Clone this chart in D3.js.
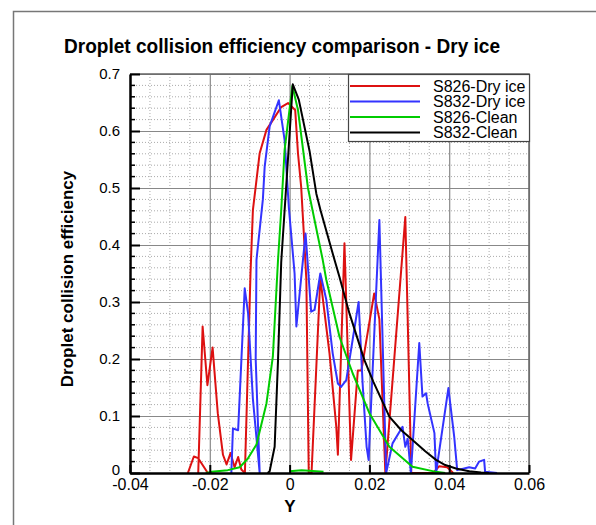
<!DOCTYPE html>
<meta charset="utf-8">
<style>
body { margin: 0; background: #fff; }
text { font-family: Arial, "Liberation Sans", sans-serif; }
</style>
<body>
<script src="https://d3js.org/d3.v7.min.js"></script>
<script>

// data: [Y, efficiency]; null pairs break the line
var s826Dry = [
  [-0.0255,0],[-0.024,0.029],[-0.0229,0.026],[-0.0205,0],[null,null],
  [-0.0229,0],[-0.0218,0.257],[-0.0206,0.154],[-0.0193,0.22],[-0.018,0.105],[-0.0167,0.032],
  [-0.0158,0.015],[-0.0148,0.035],[-0.0138,0.01],[-0.0129,0.028],[-0.0121,0.006],[-0.0112,0],
  [-0.0098,0.35],[-0.0092,0.461],[-0.0075,0.561],[-0.0058,0.602],[-0.0042,0.619],[-0.0021,0.642],
  [-0.0004,0.649],[0.0014,0.637],[0.0021,0.561],[0.0029,0.502],[0.00375,0.397],[0.0042,0.339],
  [0.0048,0],[0.0055,0],[0.0077,0.342],[0.01,0.21],[0.0117,0.081],[0.0121,0.032],[0.01375,0.403],
  [0.0154,0.023],[0.0171,0.18],[0.018,0.18],[0.0212,0.315],[0.0225,0.27],[0.024,0],[0.029,0.449],
  [0.0305,0],[0.036,0],[0.0375,0.012],[0.0395,0.01],[0.041,0]
];
var s832Dry = [
  [-0.0146,0],[-0.0142,0.078],[-0.0129,0.075],[-0.01125,0.324],[-0.0104,0.28],[-0.0092,0.13],
  [-0.0075,0],[-0.0085,0.2],[-0.0083,0.374],[-0.0067,0.48],[-0.00625,0.537],[-0.005,0.608],
  [-0.0027,0.654],[-0.00125,0.584],[-0.0002,0.467],[0.00125,0.35],[0.0017,0.257],[0.004,0.42],
  [0.0054,0.283],[0.00625,0.286],[0.0077,0.35],[0.0092,0.304],[0.0108,0.21],[0.0121,0.157],
  [0.0129,0.151],[0.0142,0.163],[0.0173,0.30],[0.0183,0.157],[0.0193,0.046],[0.0198,0.023],
  [0.0225,0.444],[0.0242,0],[0.0258,0.052],[0.0283,0.081],[0.029,0.046],[0.0296,0.06],[0.0304,0],
  [0.0325,0.228],[0.0333,0.134],[0.0342,0.14],[0.0346,0.122],[0.0363,0.07],[0.0367,0],
  [0.0398,0.149],[0.04125,0.064],[0.042,0.005],[0.045,0.01],[0.0465,0.008],[0.0475,0.02],
  [0.04875,0.023],[0.049,0.002],[0.052,0]
];
var s826Clean = [
  [-0.021,0],[-0.0196,0.002],[-0.0155,0.005],[-0.0125,0.01],[-0.0105,0.025],[-0.0083,0.05],
  [-0.0058,0.122],[-0.0042,0.204],[-0.0029,0.374],[-0.0021,0.461],[-0.00125,0.567],[0.0007,0.679],
  [0.0021,0.637],[0.0046,0.5],[0.0083,0.374],[0.0092,0.339],[0.0125,0.239],[0.0158,0.175],
  [0.02,0.105],[0.025,0.046],[0.0308,0.011],[0.0367,0.002],[0.039,0],[null,null],
  [0.0,0.003],[0.003,0.005],[0.0085,0.002]
];
var s832Clean = [
  [-0.0055,0],[-0.005,0.003],[-0.00375,0.046],[-0.0029,0.198],[-0.0021,0.37],[-0.0006,0.53],
  [0.0008,0.682],[0.0023,0.655],[0.005,0.565],[0.0067,0.49],[0.00775,0.461],[0.01125,0.374],
  [0.0125,0.344],[0.015,0.28],[0.01875,0.198],[0.021,0.16],[0.025,0.099],[0.028,0.075],
  [0.0308,0.058],[0.034,0.038],[0.0367,0.023],[0.039,0.014],[0.0417,0.008],[0.045,0.003],
  [0.048,0.001],[0.05,0]
];

var seriesNames = ["S826-Dry ice", "S832-Dry ice", "S826-Clean", "S832-Clean"];
var seriesData = [s826Dry, s832Dry, s826Clean, s832Clean];
var seriesColors = ["#dd1111", "#3333ff", "#00cc00", "#000000"];

var xTicks = [-0.04, -0.02, 0, 0.02, 0.04, 0.06];
var yTicks = [0, 0.1, 0.2, 0.3, 0.4, 0.5, 0.6, 0.7];

// plot box
var box = {left: 130, right: 529, top: 74, bottom: 473};

var svg = d3.select("body").append("svg")
    .attr("width", 596)
    .attr("height", 525);

// outer frame (only left and top edges show)
svg.append("path")
    .attr("d", "M13.5,525V11.5H596")
    .attr("fill", "none")
    .attr("stroke", "#777")
    .attr("stroke-width", 1.5);

var x = d3.scaleLinear().domain([-0.04, 0.06]).range([box.left, box.right]);
var y = d3.scaleLinear().domain([0, 0.7]).range([box.bottom, box.top]);

var xMinor = d3.range(-0.04, 0.0601, 0.005).filter(function (v, i) { return i % 4 != 0; });
var yMinor = d3.range(0, 0.7001, 0.02).filter(function (v, i) { return i % 5 != 0; });

// minor grid
svg.append("g")
    .selectAll("line")
    .data(xMinor)
    .enter().append("line")
    .attr("x1", function (d) { return x(d); })
    .attr("x2", function (d) { return x(d); })
    .attr("y1", box.top).attr("y2", box.bottom)
    .attr("stroke", "#aaa").attr("stroke-dasharray", "1,2");
svg.append("g")
    .selectAll("line")
    .data(yMinor)
    .enter().append("line")
    .attr("y1", function (d) { return y(d); })
    .attr("y2", function (d) { return y(d); })
    .attr("x1", box.left).attr("x2", box.right)
    .attr("stroke", "#aaa").attr("stroke-dasharray", "1,2");

// major grid
svg.append("g")
    .attr("transform", "translate(0," + box.bottom + ")")
    .call(d3.axisBottom(x).tickValues(xTicks).tickSize(-(box.bottom - box.top)).tickFormat(""))
    .call(function (g) { g.select(".domain").remove(); })
    .selectAll("line").attr("stroke", "#888").attr("stroke-width", 1.2);
svg.append("g")
    .attr("transform", "translate(" + box.left + ",0)")
    .call(d3.axisLeft(y).tickValues(yTicks).tickSize(-(box.right - box.left)).tickFormat(""))
    .call(function (g) { g.select(".domain").remove(); })
    .selectAll("line").attr("stroke", "#888").attr("stroke-width", 1.2);

// box top/right
svg.append("path")
    .attr("d", "M" + box.left + "," + box.top + "H" + box.right + "V" + box.bottom)
    .attr("fill", "none").attr("stroke", "#666").attr("stroke-width", 1.5);

// curves
svg.append("clipPath").attr("id", "clip")
    .append("rect").attr("x", box.left).attr("y", box.top - 2)
    .attr("width", box.right - box.left).attr("height", box.bottom - box.top + 2);

var line = d3.line()
    .defined(function (d) { return d[0] !== null; })
    .x(function (d) { return x(d[0]); })
    .y(function (d) { return y(d[1]); });

svg.append("g").attr("clip-path", "url(#clip)")
    .selectAll("path")
    .data(seriesData)
    .enter().append("path")
    .attr("d", line)
    .attr("fill", "none")
    .attr("stroke", function (d, i) { return seriesColors[i]; })
    .attr("stroke-width", 2)
    .attr("stroke-linejoin", "round");

// axes with inward ticks
var xAxis = svg.append("g")
    .attr("transform", "translate(0," + box.bottom + ")")
    .call(d3.axisBottom(x).tickValues(xTicks).tickSizeInner(-8).tickSizeOuter(0).tickPadding(6)
        .tickFormat(function (d) { return String(+d.toFixed(2)); }));
xAxis.select(".domain").attr("stroke", "#000").attr("stroke-width", 2.5);
xAxis.selectAll(".tick line").attr("stroke", "#000").attr("stroke-width", 2);
xAxis.selectAll("text").attr("font-size", 16).attr("fill", "#000")
    .attr("font-family", "Arial, 'Liberation Sans', sans-serif");

var yAxis = svg.append("g")
    .attr("transform", "translate(" + box.left + ",0)")
    .call(d3.axisLeft(y).tickValues(yTicks).tickSizeInner(-10).tickSizeOuter(0).tickPadding(10)
        .tickFormat(function (d) { return String(+d.toFixed(1)); }));
yAxis.select(".domain").attr("stroke", "#000").attr("stroke-width", 2.5);
yAxis.selectAll(".tick line").attr("stroke", "#000").attr("stroke-width", 2);
yAxis.selectAll("text").attr("font-size", 15).attr("fill", "#000")
    .attr("font-family", "Arial, 'Liberation Sans', sans-serif");
yAxis.selectAll(".tick").filter(function (d) { return d === 0; }).select("text").attr("dy", "0.1em");

// minor y ticks
svg.append("g")
    .selectAll("line")
    .data(yMinor)
    .enter().append("line")
    .attr("x1", box.left).attr("x2", box.left + 5)
    .attr("y1", function (d) { return y(d); })
    .attr("y2", function (d) { return y(d); })
    .attr("stroke", "#000").attr("stroke-width", 1.5);

// title and axis labels
svg.append("text")
    .attr("x", 282).attr("y", 53)
    .attr("text-anchor", "middle")
    .attr("font-size", 21).attr("font-weight", "bold")
    .attr("textLength", 436).attr("lengthAdjust", "spacingAndGlyphs")
    .text("Droplet collision efficiency comparison - Dry ice");

svg.append("text")
    .attr("x", 290).attr("y", 512)
    .attr("text-anchor", "middle")
    .attr("font-size", 17).attr("font-weight", "bold")
    .text("Y");

svg.append("text")
    .attr("transform", "translate(73,279) rotate(-90)")
    .attr("text-anchor", "middle")
    .attr("font-size", 17).attr("font-weight", "bold")
    .text("Droplet collision efficiency");

// legend
var legend = svg.append("g").attr("transform", "translate(348,74)");
legend.append("rect")
    .attr("x", 0.5).attr("y", 0.5).attr("width", 181).attr("height", 67)
    .attr("fill", "#fff").attr("stroke", "#444").attr("stroke-width", 1.2);
var item = legend.selectAll("g.item")
    .data(seriesNames)
    .enter().append("g").attr("class", "item")
    .attr("transform", function (d, i) { return "translate(0," + (12 + i * 15.5) + ")"; });
item.append("line")
    .attr("x1", 2).attr("x2", 72)
    .attr("stroke", function (d, i) { return seriesColors[i]; })
    .attr("stroke-width", 2);
item.append("text")
    .attr("x", 85).attr("dy", "0.35em")
    .attr("font-size", 16)
    .text(function (d) { return d; });

</script>
</body>
